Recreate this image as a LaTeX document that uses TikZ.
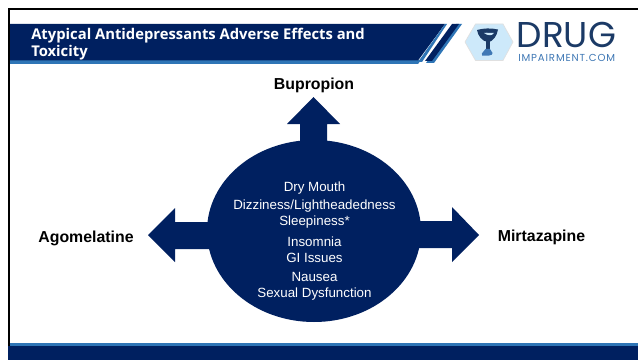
\documentclass[tikz,border=0pt]{standalone}
\usepackage{fontspec}
\usetikzlibrary{shapes.geometric}
\setmainfont{Liberation Sans}
\newfontfamily\titlefont{Open Sans}
\newfontfamily\logofont{Poppins}
\newfontfamily\sitefont[LetterSpace=8.5]{Poppins}
\definecolor{navy}{HTML}{002060}
\definecolor{midblue}{HTML}{2E75B6}
\definecolor{hexblue}{HTML}{CDE9FA}
\definecolor{logonavy}{HTML}{1B3A66}
\definecolor{logoblue}{HTML}{3F78B5}
\tikzset{
  item/.style={text=white,font=\fontsize{10pt}{12pt}\selectfont,inner sep=0pt},
  drug/.style={text=black,font=\fontsize{11.9pt}{14pt}\selectfont\bfseries,inner sep=0pt},
  fillnavy/.style={fill=navy,draw=none}
}
\begin{document}
\begin{tikzpicture}[x=0.75pt,y=-0.75pt]
\useasboundingbox (0,0) rectangle (638,360);
\fill[white] (0,0) rectangle (638,360);
% frame
\fill[black] (8,8.5) rectangle (638,10.5);
\fill[black] (7.5,8.5) rectangle (10,360);
% title band
\fill[midblue] (10,60) -- (421,60) -- (418,64) -- (10,64) -- cycle;
\fill[navy] (10,24) -- (445,24) -- (418,60.5) -- (10,60.5) -- cycle;
\fill[midblue] (445,24) -- (447,24) -- (422,62) -- (418,62) -- cycle;
\fill[midblue] (456,24) -- (462,24) -- (434,63) -- (426,63) -- cycle;
\fill[navy] (452,24) -- (459,24) -- (432,61) -- (425,61) -- cycle;
% bottom band
\fill[midblue] (10,343) rectangle (638,346);
\fill[navy] (7.5,346) rectangle (638,360);
% title
\node[anchor=north west,inner sep=0pt,text=white,align=left,font=\titlefont\fontsize{11.1pt}{12.6pt}\selectfont\bfseries] (title) at (31,28) {Atypical Antidepressants Adverse Effects and\\Toxicity};
% logo
\fill[hexblue,draw=black!12,line width=0.5pt] (465,42) -- (475.5,24) -- (503,24) -- (513,42) -- (503,60.5) -- (475.5,60.5) -- cycle;
\fill[logonavy] (477,30) .. controls (484,28) and (491,28) .. (498,29.5) .. controls (497,36) and (493,41) .. (489,42) -- (487.5,42) .. controls (482,41) and (478,36) .. (477,30) -- cycle;
\fill[hexblue] (484,33) .. controls (488,32) and (491,34) .. (494,33) .. controls (492,36) and (488,36) .. (484,33) -- cycle;
\fill[logonavy] (485.5,41) -- (490,41) -- (490,50) -- (485.5,50) -- cycle;
\fill[logoblue] (485.5,49) -- (490,49) -- (492.5,53) .. controls (493,56) and (486,56) .. (482,55.5) .. controls (481,52) and (484.5,52) .. (485.5,49) -- cycle;
\node[anchor=base west,inner sep=0pt,text=logonavy,font=\logofont\fontsize{26.9pt}{27pt}\selectfont] (drugword) at (516.5,48) {DRUG};
\node[anchor=base west,inner sep=0pt,text=logoblue,font=\sitefont\fontsize{7.6pt}{8pt}\selectfont] (site) at (518,61) {IMPAIRMENT.COM};
% central shape
\node[fillnavy,shape=ellipse,minimum width=160.5pt,minimum height=136.5pt,inner sep=0pt] (hub) at (314,231) {};
\fill[navy] (300,150) -- (300,124) -- (287,124) -- (313.5,97) -- (340,124) -- (327,124) -- (327,150) -- cycle;
\fill[navy] (215,222) -- (175,222) -- (175,208) -- (148,235) -- (175,262) -- (175,249) -- (215,249) -- cycle;
\fill[navy] (410,221) -- (452,221) -- (452,207) -- (479,235) -- (452,262) -- (452,248) -- (410,248) -- cycle;
% labels
\node[drug] (bup) at (314,85.5) {Bupropion};
\node[drug] (ago) at (86,238) {Agomelatine};
\node[drug] (mir) at (541.5,237) {Mirtazapine};
\node[item] (i1) at (314.5,188) {Dry Mouth};
\node[item] (i2) at (314.5,206.5) {Dizziness/Lightheadedness};
\node[item] (i3) at (314.5,222.5) {Sleepiness*};
\node[item] (i4) at (314.5,241.5) {Insomnia};
\node[item] (i5) at (314.5,257.5) {GI Issues};
\node[item] (i6) at (314.5,276.5) {Nausea};
\node[item] (i7) at (314.5,294.5) {Sexual Dysfunction};
\end{tikzpicture}
\end{document}
